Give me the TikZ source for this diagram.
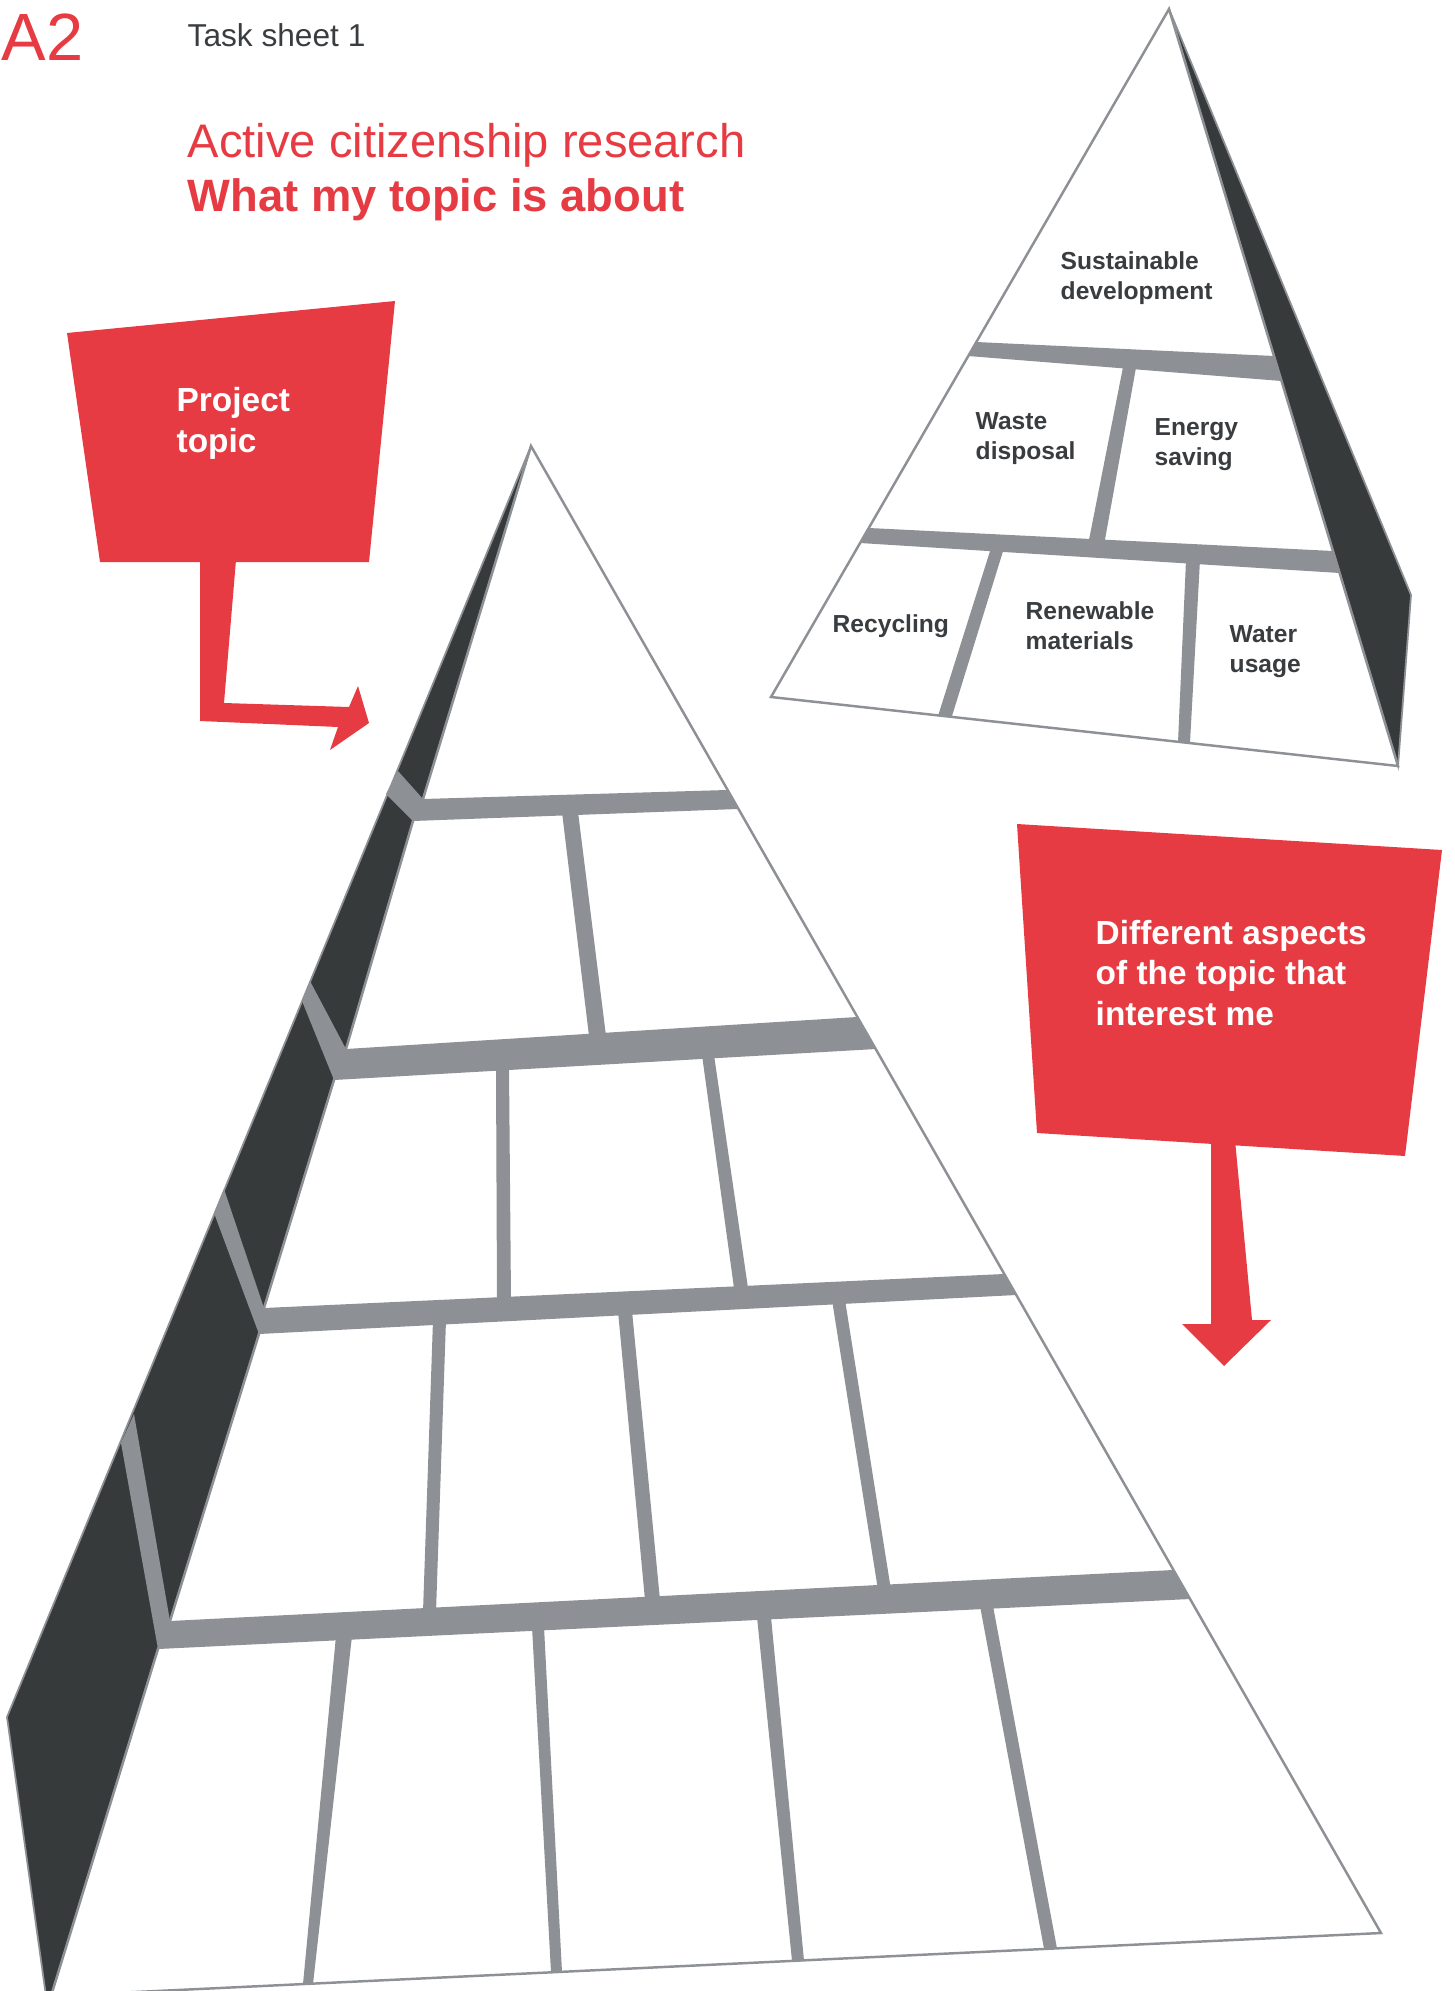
\documentclass[tikz,border=0pt]{standalone}
\usepackage{fontspec}
\setmainfont{Liberation Sans}
\definecolor{citired}{HTML}{E63B42}
\definecolor{bandgray}{HTML}{8D9094}
\definecolor{sidedark}{HTML}{363A3B}
\definecolor{inkgray}{HTML}{3A3D40}

\begin{document}
\begin{tikzpicture}[x=0.01cm,y=-0.01cm, frontface/.style={fill=white, draw=bandgray, line width=0.7pt}, darkside/.style={fill=sidedark, draw=bandgray, line width=0.5pt}, band/.style={fill=bandgray}, redsign/.style={fill=citired}, signtext/.style={text=white, font=\fontsize{9.5}{11.4}\selectfont\bfseries, align=left, anchor=base west, inner sep=0pt}, aspectlabel/.style={text=inkgray, font=\fontsize{7}{8.5}\selectfont\bfseries, align=left, anchor=base west, inner sep=0pt}, headline/.style={anchor=base west, inner sep=0pt}]
\useasboundingbox (0,0) rectangle (1454,1991);
\clip (0,0) rectangle (1454,1991);
% heading
\node[headline, text=citired, font=\fontsize{19}{19}\selectfont] (sheetno) at (1,61) {A2};
\node[headline, text=inkgray, font=\fontsize{9}{9}\selectfont] (tasksheet) at (187,47) {Task sheet 1};
\node[headline, text=citired, font=\fontsize{13.4}{13.4}\selectfont] (research) at (187,158) {Active citizenship research};
\node[headline, text=citired, font=\fontsize{12.9}{12.9}\selectfont\bfseries] (whatabout) at (187,212) {What my topic is about};
% big pyramid
\coordinate (apex) at (531,446); \coordinate (baseR) at (1381,1933); \coordinate (baseL) at (51,1996);
\coordinate (outerK) at (7,1717); \coordinate (outerB) at (46,1996);
\coordinate (t1) at (423,799); \coordinate (b1) at (413,821);
\coordinate (t2) at (346,1049); \coordinate (b2) at (334,1080);
\coordinate (t3) at (264,1308); \coordinate (b3) at (259,1334);
\coordinate (t4) at (170,1621); \coordinate (b4) at (158,1649);
\filldraw[darkside] (apex) -- (outerK) -- (outerB) -- (baseL) -- (b4) -- (t4) -- (b3) -- (t3) -- (b2) -- (t2) -- (b1) -- (t1) -- cycle;
\fill[band] (398,771) -- (t1) -- (b1) -- (386,794) -- cycle;
\fill[band] (310,981) -- (t2) -- (b2) -- (302,1001) -- cycle;
\fill[band] (224,1189) -- (t3) -- (b3) -- (214,1213) -- cycle;
\fill[band] (134,1414) -- (t4) -- (b4) -- (121,1443) -- cycle;
\filldraw[frontface] (apex) -- (baseR) -- (baseL) -- (b4) -- (t4) -- (b3) -- (t3) -- (b2) -- (t2) -- (b1) -- (t1) -- cycle;
\foreach \tl/\tr/\ty/\bl/\br/\by in {562/578/812/589/606/1036, 496/509/1068/497/511/1300, 702/714/1055/734/748/1288, 433/446/1320/423/436/1612, 618/632/1311/645/660/1600, 832/845/1300/878/891/1590, 336/352/1636/303/313/1984, 532/544/1627/551/562/1972, 757/771/1617/792/804/1960.5, 980/993/1606/1044/1057/1948.5}
  \fill[band] (\tl,\ty) -- (\tr,\ty) -- (\br,\by) -- (\bl,\by) -- cycle;
\fill[band] (t1) -- (727,790) -- (738,809) -- (b1) -- cycle;
\fill[band] (t2) -- (857,1017) -- (876,1049) -- (b2) -- cycle;
\fill[band] (t3) -- (1004,1274) -- (1016,1295) -- (b3) -- cycle;
\fill[band] (t4) -- (1173,1570) -- (1190,1599) -- (b4) -- cycle;
% small pyramid
\coordinate (topapex) at (1169,9); \coordinate (topL) at (771,697); \coordinate (topR) at (1398,766); \coordinate (topK) at (1411,595);
\filldraw[darkside] (topapex) -- (topK) -- (topR) -- cycle;
\filldraw[frontface] (topapex) -- (topR) -- (topL) -- cycle;
\foreach \tl/\tr/\ty/\bl/\br/\by in {1124/1137/362/1088/1104/545, 991/1004/548/938/952/716, 1186/1200/560/1178/1190/742.5}
  \fill[band] (\tl,\ty) -- (\tr,\ty) -- (\br,\by) -- (\bl,\by) -- cycle;
\fill[band] (976,342) -- (1274,356) -- (1281.5,381) -- (968,356) -- cycle;
\fill[band] (869,528) -- (1333,551) -- (1339.6,573) -- (860,543) -- cycle;
% labels sit on the baseline of their last line
\node[aspectlabel] (sustain) at (1060,299) {Sustainable\\development};
\node[aspectlabel] (waste) at (975,459) {Waste\\disposal};
\node[aspectlabel] (energy) at (1154,465) {Energy\\saving};
\node[aspectlabel] (recycle) at (832,632) {Recycling};
\node[aspectlabel] (renew) at (1025,649) {Renewable\\materials};
\node[aspectlabel] (water) at (1229,672) {Water\\usage};
% red signs
\fill[redsign] (67,333) -- (395,301) -- (369,562) -- (100,562) -- cycle;
\fill[redsign] (200,560) -- (236,560) -- (224,703) -- (349,707) -- (358,686) -- (369,723) -- (330,750) -- (338,727) -- (200,721) -- cycle;
\node[signtext] (topic) at (176,452) {Project\\topic};
\fill[redsign] (1017,824) -- (1442,850) -- (1405,1156) -- (1037,1133) -- cycle;
\fill[redsign] (1211,1140) -- (1235,1140) -- (1252,1320) -- (1271,1320) -- (1224,1366) -- (1182,1324) -- (1211,1324) -- cycle;
\node[signtext] (aspects) at (1095,1025) {Different aspects\\of the topic that\\interest me};
\end{tikzpicture}
\end{document}
